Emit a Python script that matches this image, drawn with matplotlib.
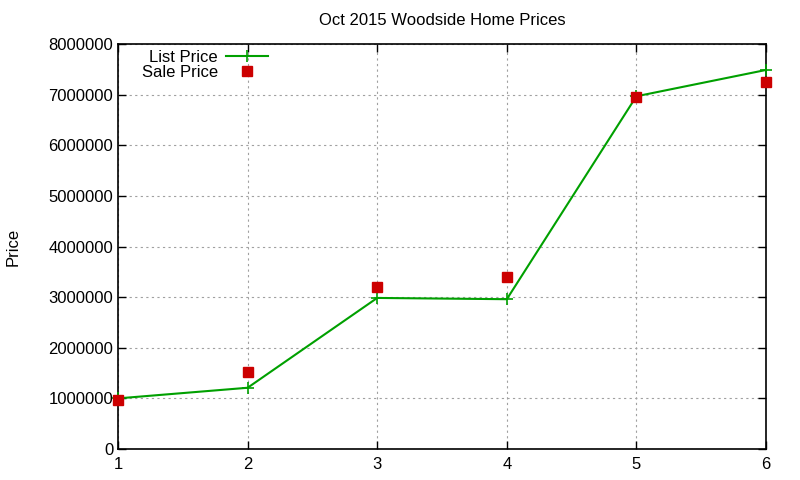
import matplotlib
matplotlib.use("Agg")
import matplotlib.pyplot as plt

plt.rcParams['font.family'] = ['Liberation Sans', 'DejaVu Sans']

homes = [1, 2, 3, 4, 5, 6]
list_price = [1000000, 1210000, 2985000, 2960000, 6970000, 7490000]
sale_price = [970000, 1520000, 3200000, 3400000, 6950000, 7250000]

fig = plt.figure(figsize=(8, 4.8), dpi=100)
ax = fig.add_axes([0.1475, 0.0646, 0.81, 0.8434])

ax.plot(homes, list_price, color='#00a000', lw=1.5, marker='+', ms=8, mew=1.2,
        label='List Price', clip_on=False, zorder=3)
ax.plot(homes, sale_price, ls='none', marker='s', ms=6.5, color='#cc0000',
        label='Sale Price', clip_on=False, zorder=4)

ax.set_xlim(1, 6)
ax.set_ylim(0, 8000000)
ax.set_xticks(homes)
ax.set_yticks(range(0, 8000001, 1000000))
ax.set_yticklabels([str(v) for v in range(0, 8000001, 1000000)])
ax.tick_params(direction='in', top=True, right=True, length=6, labelsize=12,
               width=1)
ax.tick_params(axis='x', pad=6)
ax.grid(True, color='#a0a0a0', ls=(0, (2, 3)), lw=0.8)
for s in ax.spines.values():
    s.set_linewidth(1.2)

ax.set_title('Oct 2015 Woodside Home Prices', fontsize=12, pad=14)
ax.set_ylabel('Price', fontsize=12, labelpad=20)

ax.legend(loc='upper left', bbox_to_anchor=(0.016, 1.018), frameon=False,
          markerfirst=False, fontsize=12, handlelength=2.5, labelspacing=0.0,
          borderpad=0.3, handletextpad=0.5)

fig.savefig('out.png')
